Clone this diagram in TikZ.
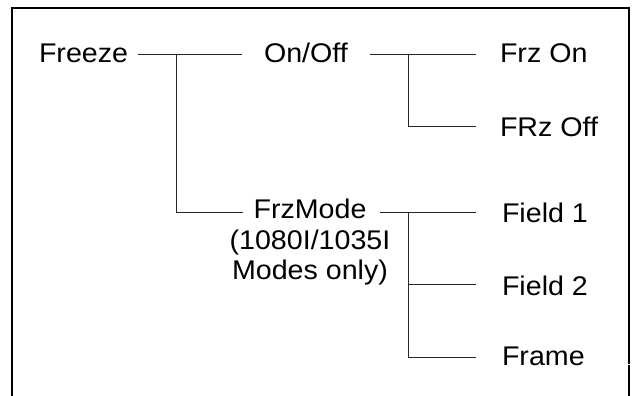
\documentclass[tikz,border=0pt]{standalone}
\usepackage{fontspec}
\setmainfont{Liberation Sans}[FakeStretch=1.06]
\begin{document}
\begin{tikzpicture}[x=1pt,y=-1pt,
  lbl/.style={inner sep=0pt,outer sep=0pt,font=\fontsize{27}{30.5}\selectfont},
  conn/.style={line width=0.9pt,black!85},
  framestyle/.style={line width=2.6pt,black,line cap=rect}]
\fill[white] (0,0) rectangle (635,396);
\useasboundingbox (0,0) rectangle (635,396);
% frame (open at bottom, with small scan gaps)
\draw[framestyle] (12,364) -- (12,8) -- (629,8) -- (629,363);
\draw[framestyle] (12,366) -- (12,400);
\draw[framestyle] (629,366) -- (629,400);
% nodes
\node[lbl,anchor=base west] (freeze) at (39,63) {Freeze};
\node[lbl,anchor=base west] (onoff) at (264,63) {On/Off};
\node[lbl,anchor=base west] (frzon) at (500,63) {Frz On};
\node[lbl,anchor=base west] (frzoff) at (500,136) {FRz Off};
\node[lbl,anchor=base west] (field1) at (502,222) {Field 1};
\node[lbl,anchor=base west] (field2) at (502,295) {Field 2};
\node[lbl,anchor=base west] (frame) at (502,365) {Frame};
\node[lbl,align=center,anchor=north] (frzmode) at (310,199) {FrzMode\\(1080I/1035I\\Modes only)};
% connector end points
\coordinate (fzout) at (138,54);
\coordinate (j1) at (176,54);
\coordinate (ooin) at (242,54);
\coordinate (ooout) at (370,54);
\coordinate (j2) at (408,54);
\coordinate (fonin) at (476,54);
\coordinate (foffin) at (476,126);
\coordinate (fmin) at (243,212);
\coordinate (fmout) at (380,212);
\coordinate (j3) at (408,212);
\coordinate (f1in) at (476,212);
\coordinate (f2in) at (476,284);
\coordinate (frin) at (476,357);
% connectors
\draw[conn] (fzout) -- (ooin);
\draw[conn] (j1) |- (fmin);
\draw[conn] (ooout) -- (fonin);
\draw[conn] (j2) |- (foffin);
\draw[conn] (fmout) -- (f1in);
\draw[conn] (j3) |- (f2in);
\draw[conn] (j3) |- (frin);
\end{tikzpicture}
\end{document}
